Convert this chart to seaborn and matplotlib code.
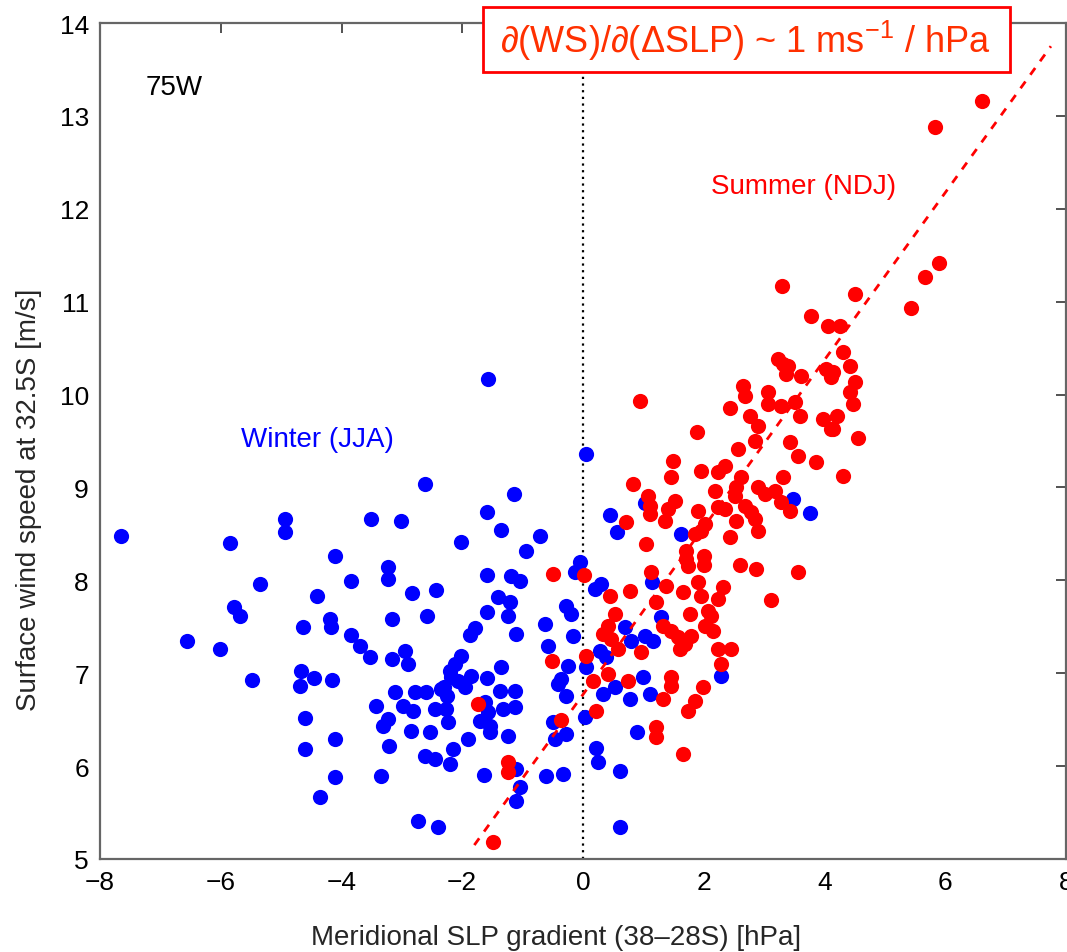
import matplotlib
matplotlib.use("Agg")
import matplotlib.pyplot as plt
import seaborn as sns
import pandas as pd
from matplotlib.patches import Rectangle

# ---------------- data ----------------
winter_x = [-7.65, -5.84, -4.93, -4.93, -4.10, -5.35, -4.40, -5.78, -5.68, -4.64, -4.19, -4.17,
            -6.56, -6.01, -5.48, -4.67, -4.69, -4.45, -4.16, -4.60, -4.10, -4.60, -4.10, -4.35,
            -1.57, -2.62, -1.14, -3.51, -3.01, -1.59, -1.36, -2.02, -0.71, -0.94, -3.23, -3.23,
            -3.84, -1.59, -1.19, -1.04, -0.13, -0.05, -2.83, -2.43, -1.41, -1.21, -3.16, -2.58,
            -1.59, -1.24, -1.79, -1.87, -1.11, -0.63, -0.28, -0.20, -0.17, -0.58, -3.84, -3.69,
            -3.53, -3.16, -2.95, -2.90, -0.25, -0.36, -0.41, -0.28, -2.02, -2.12, -2.20, -2.19,
            -2.07, -1.85, -1.59, -1.36, -1.37, -1.13, -3.11, -2.78, -2.60, -2.35, -2.98, -2.81,
            -2.45, -2.27, -3.43, -1.62, -1.57, -1.32, -1.13, -3.23, -3.31, -1.71, -1.54, -2.24,
            -2.85, -2.53, -1.90, -1.54, -1.24, -0.50, -0.46, -0.28, -3.21, -2.62, -2.45, -2.15,
            -2.20, -1.11, -3.34, -1.64, -0.61, -0.33, -1.04, -1.11, -2.73, -2.40, -2.30, -2.25,
            -1.95,
            0.05, 0.45, 0.56, 1.03, 1.62, 3.48, 3.76, 0.30, 0.20, 1.14, 1.29, 0.70, 0.79, 1.03,
            1.16, 0.28, 0.38, 0.05, 0.99, 2.28, 0.53, 0.33, 0.78, 1.11, 0.03, 0.89, 0.22, 0.25,
            0.61, 0.61]
winter_y = [8.48, 8.40, 8.66, 8.52, 8.26, 7.96, 7.83, 7.71, 7.62, 7.50, 7.58, 7.50,
            7.35, 7.26, 6.93, 7.02, 6.86, 6.95, 6.93, 6.52, 6.29, 6.18, 5.88, 5.67,
            10.17, 9.04, 8.93, 8.66, 8.64, 8.74, 8.54, 8.41, 8.48, 8.32, 8.14, 8.01,
            7.99, 8.06, 8.05, 7.99, 8.09, 8.20, 7.86, 7.90, 7.82, 7.77, 7.58, 7.62,
            7.66, 7.62, 7.49, 7.41, 7.42, 7.53, 7.72, 7.64, 7.40, 7.29, 7.41, 7.29,
            7.17, 7.15, 7.24, 7.10, 7.08, 6.94, 6.88, 6.75, 7.19, 7.10, 7.02, 6.96,
            6.92, 6.97, 6.95, 7.07, 6.81, 6.81, 6.80, 6.80, 6.80, 6.83, 6.65, 6.59,
            6.61, 6.61, 6.65, 6.69, 6.58, 6.61, 6.64, 6.51, 6.43, 6.49, 6.43, 6.47,
            6.38, 6.37, 6.29, 6.37, 6.32, 6.47, 6.29, 6.35, 6.22, 6.11, 6.08, 6.18,
            6.02, 5.97, 5.89, 5.90, 5.89, 5.91, 5.77, 5.62, 5.41, 5.34, 6.85, 6.75,
            6.85,
            9.36, 8.70, 8.52, 8.83, 8.50, 8.88, 8.73, 7.96, 7.91, 7.98, 7.61, 7.50, 7.35, 7.40,
            7.35, 7.24, 7.17, 7.07, 6.96, 6.97, 6.85, 6.78, 6.72, 6.78, 6.53, 6.37, 6.20, 6.04,
            5.95, 5.34]

summer_x = [-0.50, 0.02, -0.51, -1.74, -0.36, -1.24, -1.24, -1.49,
            0.94, 3.31, 3.36, 3.61, 4.02, 4.10, 2.65, 2.68, 3.06, 3.06, 2.43, 3.28, 3.51, 3.59,
            2.77, 2.90, 3.97, 4.10, 1.89, 2.85, 2.57, 3.43, 3.56, 3.86, 1.49, 1.46, 1.95, 2.35,
            2.24, 2.62, 3.31, 0.83, 2.19, 2.53, 2.52, 2.90, 3.01, 3.18, 1.08, 1.11, 1.52, 1.41,
            1.90, 2.24, 2.35, 2.68, 2.78, 3.28, 3.43, 1.11, 1.36, 0.71, 2.02, 1.95, 2.53, 2.85,
            2.90, 1.85, 2.43, 1.04, 1.71, 1.71, 1.74, 2.00, 2.00, 2.60, 2.86, 3.56, 1.13, 0.78,
            1.37, 1.66, 1.90, 1.95, 2.32, 2.24, 3.11, 0.45, 1.21, 0.53, 1.77, 2.07, 2.12, 0.41,
            0.33, 1.32, 1.46, 1.57, 1.79, 1.69, 2.02, 2.15, 0.46, 0.58, 0.96, 1.61, 2.24, 2.45,
            0.05, 2.28, 0.41, 0.17, 0.75, 1.46, 1.46, 1.99, 1.32, 1.85, 1.74, 0.22, 1.21, 1.21,
            1.66,
            6.61, 5.83, 5.89, 5.66, 4.50, 5.43, 4.25, 4.06, 4.30, 4.42, 4.14, 4.50, 4.42, 4.47,
            4.20, 4.14, 4.55, 4.30, 3.29, 3.77, 3.23, 3.39]
summer_y = [8.07, 8.06, 7.13, 6.67, 6.50, 6.04, 5.94, 5.18,
            9.93, 10.33, 10.22, 10.20, 10.27, 10.19, 10.09, 9.98, 10.03, 9.90, 9.85, 9.88, 9.92, 9.77,
            9.77, 9.66, 9.74, 9.63, 9.60, 9.50, 9.41, 9.49, 9.34, 9.27, 9.28, 9.11, 9.18, 9.23,
            9.17, 9.11, 9.11, 9.04, 8.96, 9.00, 8.91, 9.00, 8.93, 8.96, 8.91, 8.80, 8.85, 8.77,
            8.75, 8.79, 8.77, 8.80, 8.74, 8.84, 8.75, 8.71, 8.64, 8.63, 8.61, 8.53, 8.64, 8.66,
            8.53, 8.50, 8.47, 8.39, 8.32, 8.23, 8.15, 8.26, 8.17, 8.17, 8.12, 8.09, 8.09, 7.88,
            7.94, 7.87, 7.98, 7.83, 7.93, 7.80, 7.79, 7.83, 7.77, 7.64, 7.64, 7.67, 7.62, 7.51,
            7.42, 7.51, 7.45, 7.39, 7.40, 7.31, 7.51, 7.45, 7.37, 7.26, 7.23, 7.26, 7.26, 7.26,
            7.19, 7.10, 6.99, 6.92, 6.92, 6.96, 6.86, 6.85, 6.72, 6.70, 6.59, 6.59, 6.42, 6.31,
            6.13,
            13.16, 12.88, 11.42, 11.27, 11.08, 10.93, 10.74, 10.74, 10.46, 10.31, 10.24, 10.14, 10.03, 9.90,
            9.77, 9.63, 9.53, 9.12, 11.17, 10.85, 10.38, 10.31]

fit_x = [-1.80, 7.75]
fit_y = [5.15, 13.75]

x_ticks = [-8, -6, -4, -2, 0, 2, 4, 6, 8]
y_ticks = [5, 6, 7, 8, 9, 10, 11, 12, 13, 14]

x_label = "Meridional SLP gradient (38\u201328S) [hPa]"
y_label = "Surface wind speed at 32.5S [m/s]"
winter_label = "Winter (JJA)"
summer_label = "Summer (NDJ)"
lon_label = "75W"
box_text = "\u2202(WS)/\u2202(\u0394SLP) ~ 1 ms$^{-1}$ / hPa"

# ---------------- plot ----------------
sns.set_theme(style="white")
fam = ["Liberation Sans", "DejaVu Sans"]
plt.rcParams["font.family"] = fam
plt.rcParams["mathtext.fontset"] = "custom"
plt.rcParams["mathtext.rm"] = "Liberation Sans"
plt.rcParams["mathtext.it"] = "Liberation Sans:italic"

df_w = pd.DataFrame({"x": winter_x, "y": winter_y})
df_s = pd.DataFrame({"x": summer_x, "y": summer_y})
df_fit = pd.DataFrame({"x": fit_x, "y": fit_y})

fig = plt.figure(figsize=(10.67, 9.53), dpi=100)
ax = fig.add_axes([100 / 1067, 93 / 953, 966 / 1067, 836 / 953])

ax.axvline(0, color="black", linestyle=(0, (1, 2)), linewidth=1.6, zorder=1)

sns.scatterplot(data=df_w, x="x", y="y", ax=ax, color="#0000ff", s=120,
                linewidth=0, zorder=3)
sns.scatterplot(data=df_s, x="x", y="y", ax=ax, color="#ff0000", s=120,
                linewidth=0, zorder=4)
sns.lineplot(data=df_fit, x="x", y="y", ax=ax, color="#ff0000",
             linestyle=(0, (3, 3)), linewidth=2, zorder=5)

ax.set_xlim(-8, 8)
ax.set_ylim(5, 14)
ax.set_xticks(x_ticks)
ax.set_yticks(y_ticks)
ax.tick_params(direction="in", top=True, right=True, length=7, width=1.3,
               color="#444444", labelsize=19, pad=8, labelcolor="black")
for sp in ax.spines.values():
    sp.set_color("#666666")
    sp.set_linewidth(1.6)

ax.set_xlabel(x_label, fontsize=20)
ax.set_ylabel(y_label, fontsize=20)
ax.xaxis.set_label_coords(0.472, -0.078)
ax.yaxis.set_label_coords(-0.060, 0.431)

ax.text(-5.66, 9.52, winter_label, color="#0000ff", fontsize=20,
        ha="left", va="center")
ax.text(2.12, 12.24, summer_label, color="#ff0000", fontsize=20,
        ha="left", va="center")
ax.text(-7.25, 13.31, lon_label, color="black", fontsize=20,
        ha="left", va="center")

# annotation box (figure coordinates)
rect = Rectangle((483 / 1067, 1 - 73 / 953), 527 / 1067, 65 / 953,
                 transform=fig.transFigure, facecolor="white",
                 edgecolor="#ff0000", linewidth=2, zorder=10)
fig.patches.append(rect)
fig.text(745 / 1067, 1 - 41 / 953, box_text, color="#ff3000", fontsize=26,
         ha="center", va="center", zorder=11)

fig.savefig("out.png", dpi=100)
